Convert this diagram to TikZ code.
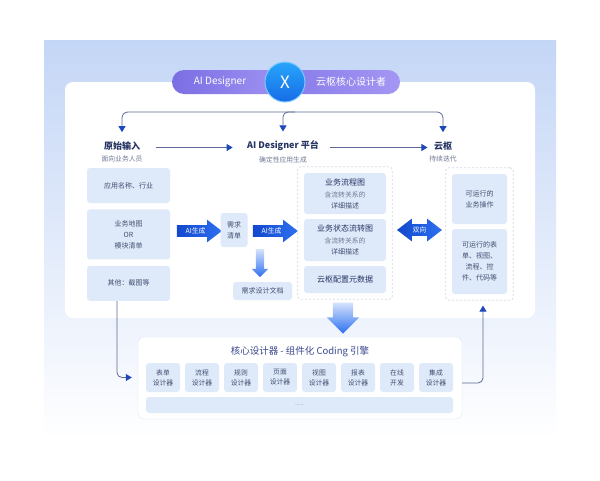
\documentclass[tikz,border=0pt]{standalone}
\usepackage{fontspec}
\setmainfont{Noto Sans CJK SC}
\usetikzlibrary{arrows.meta,positioning,fit,calc,shapes.arrows}
\definecolor{panelblue}{RGB}{196,214,246}
\definecolor{boxblue}{RGB}{222,233,249}
\definecolor{headnavy}{RGB}{38,52,100}
\definecolor{subgray}{RGB}{112,122,150}
\definecolor{boxtext}{RGB}{66,80,114}
\definecolor{linegray}{RGB}{92,106,148}
\definecolor{tipblue}{RGB}{30,72,185}
\definecolor{dashgray}{RGB}{212,218,228}
\definecolor{coreline}{RGB}{222,229,242}
\definecolor{coretext}{RGB}{58,72,140}
\definecolor{blockdark}{RGB}{18,72,205}
\definecolor{blocklight}{RGB}{45,112,240}
\definecolor{pilldark}{RGB}{122,110,228}
\definecolor{pilllight}{RGB}{164,150,243}
\definecolor{xlight}{RGB}{40,165,252}
\definecolor{xdark}{RGB}{22,108,230}
\newcommand{\bigline}{\fontsize{8}{10}\selectfont\color{headnavy}}
\newcommand{\smallline}{\fontsize{6.8}{9}\selectfont\color{subgray}}
\tikzset{
  inbox/.style={fill=boxblue, rounded corners=3pt, align=center, text=boxtext, font=\fontsize{7}{11}\selectfont, inner sep=2pt},
  head/.style={text=headnavy, font=\fontsize{9}{10}\selectfont\bfseries},
  subhead/.style={text=subgray, font=\fontsize{6.8}{8}\selectfont, inner sep=1pt},
  conn/.style={draw=linegray, line width=0.8pt, -{Triangle[length=6pt,width=7pt,color=tipblue]}},
  dconn/.style={conn, {Triangle[length=6pt,width=7pt,color=tipblue]}-{Triangle[length=6pt,width=7pt,color=tipblue]}},
  group/.style={draw=dashgray, dash pattern=on 2pt off 2pt, line width=0.8pt, rounded corners=3pt, inner sep=6pt},
  aiarrow/.style={single arrow, single arrow head extend=5.5pt, single arrow tip angle=75, minimum height=45pt, inner sep=2.5pt, left color=blockdark, right color=blocklight, text=white, font=\fontsize{6.8}{7}\selectfont},
  downarrow/.style={single arrow, shape border rotate=270, top color=blocklight!20, bottom color=blocklight},
  pill/.style={rounded corners=12pt, minimum height=24pt},
  pilltext/.style={text=white, font=\fontsize{10}{11}\selectfont},
  designer/.style={inbox, minimum width=34pt, minimum height=29pt, font=\fontsize{6.8}{10}\selectfont}
}

\begin{document}
\begin{tikzpicture}[x=1pt, y=-1pt]
  \useasboundingbox (0,0) rectangle (600,480);
  \fill[white] (0,0) rectangle (600,480);
  % background panel and card
  \shade[top color=panelblue, bottom color=white] (44,40) rectangle (556,440);
  \fill[white, rounded corners=8pt] (65,82) rectangle (535,318);

  % title
  \node[pill, minimum width=122pt, left color=pilldark, right color=pilllight] (pillL) at (233,82) {};
  \node[pill, minimum width=122pt, left color=pilldark!70!pilllight, right color=pilllight] (pillR) at (339,82) {};
  \node[pilltext] (aid) at (220,82) {AI Designer};
  \node[pilltext] (yun) at (351,82) {云枢核心设计者};
  \node[circle, minimum size=40pt, top color=xlight, bottom color=xdark, draw=white!40!xlight, line width=1pt, text=white, font=\fontsize{17}{17}\selectfont] (cross) at (285,82) {X};

  % column heads
  \node[head] (raw) at (122,146) {原始输入};
  \node[subhead, below=0.5pt of raw] (rawsub) {面向业务人员};
  \node[head] (plat) at (283,146) {AI Designer 平台};
  \node[subhead, below=0.5pt of plat] (platsub) {确定性应用生成};
  \node[head] (cloud) at (443,146) {云枢};
  \node[subhead, below=0.5pt of cloud] (cloudsub) {持续迭代};

  \coordinate (barmid) at (295,112);
  \draw[dconn, rounded corners=6pt, shorten <=6pt, shorten >=6pt] (raw.north) |- (barmid) -| (cloud.north);
  \draw[conn, rounded corners=5pt, shorten >=6pt] (barmid) -| (plat.north);
  \draw[conn, shorten <=12pt, shorten >=11pt] ([yshift=-1.5pt]raw.east) -- ([yshift=-1.5pt]plat.west);
  \draw[conn, shorten <=8pt, shorten >=3pt] ([yshift=-1.5pt]plat.east) -- ([yshift=-1.5pt]cloud.west);

  % raw input
  \node[inbox, minimum width=83pt, minimum height=35pt] (app) at (128.5,185.5) {应用名称、行业};
  \node[inbox, minimum width=83pt, minimum height=50pt, below=6pt of app] (map) {业务地图\\OR\\模块清单};
  \node[inbox, minimum width=83pt, minimum height=35pt, below=6pt of map] (other) {其他：截图等};

  \node[aiarrow] (gen1) at (195.5,231) {AI生成};
  \node[inbox, minimum width=27pt, minimum height=34pt] (req) at (234,230) {需求\\清单};
  \node[aiarrow] (gen2) at (271.5,231) {AI生成};
  \node[downarrow, minimum height=28pt, inner sep=4pt, single arrow head extend=4pt] (reqdown) at (260,261) {};
  \node[inbox, minimum width=59pt, minimum height=18pt] (doc) at (262.5,291) {需求设计文档};

  % platform
  \node[inbox, minimum width=82pt, minimum height=41pt] (flow) at (345,193.5)
    {\bigline 业务流程图\\[1pt]\smallline 含流转关系的\\详细描述};
  \node[inbox, minimum width=82pt, minimum height=42pt] (state) at (345,240)
    {\bigline 业务状态流转图\\[1pt]\smallline 含流转关系的\\详细描述};
  \node[inbox, minimum width=82pt, minimum height=27pt, font=\fontsize{8}{10}\selectfont, text=headnavy] (meta) at (345,279.5) {云枢配置元数据};
  \node[group, fit=(flow)(meta)] (pgroup) {};

  \node[aiarrow, double arrow, double arrow head extend=5.5pt, double arrow tip angle=75] (both) at (419.5,230) {双向};

  % yunshu
  \node[inbox, minimum width=55pt, minimum height=50pt] (op) at (479.5,199) {可运行的\\业务操作};
  \node[inbox, minimum width=55pt, minimum height=65pt] (run) at (479.5,261.5) {可运行的表\\单、视图、\\流程、控\\件、代码等};
  \node[group, fit=(op)(run)] (rgroup) {};

  \node[downarrow, minimum height=31pt, inner sep=10pt, single arrow head extend=6pt] (bigdown) at (343,313) {};

  % core designer
  \node[draw=coreline, fill=white, rounded corners=6pt, minimum width=324pt, minimum height=82pt] (core) at (300,378) {};
  \node[text=coretext, font=\fontsize{9.5}{10}\selectfont] (coretitle) at (300,352) {核心设计器 - 组件化 Coding 引擎};
  \foreach \lab [count=\i] in {表单\\设计器, 流程\\设计器, 规则\\设计器, 页面\\设计器, 视图\\设计器, 报表\\设计器, 在线\\开发, 集成\\设计器}
    \node[designer] (d\i) at ({124+39*\i},377.5) {\lab};
  \node[inbox, minimum width=307pt, minimum height=16pt, font=\fontsize{5}{6}\selectfont, text=subgray] (more) at (299.5,405) {......};

  \draw[conn, rounded corners=5pt, shorten >=14pt] ([xshift=-11.5pt]other.south) |- (d1.west);
  \draw[conn, rounded corners=5pt, shorten >=5pt] ([yshift=-5pt]core.east) -| ([xshift=3.5pt]rgroup.south);
\end{tikzpicture}
\end{document}
